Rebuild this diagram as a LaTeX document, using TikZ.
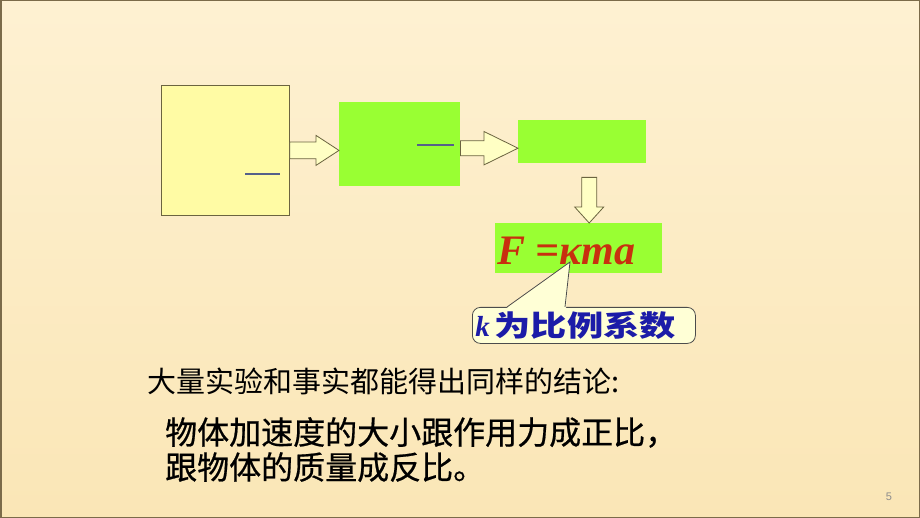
\documentclass[tikz,border=0pt]{standalone}
\usepackage{fontspec}
\setmainfont{Liberation Serif}
\newfontfamily\cjk{Noto Sans CJK SC}
\newfontfamily\cjkbody[FakeBold=0.6]{Noto Sans CJK SC}
\newfontfamily\cjkwide[FakeStretch=1.25]{Noto Sans CJK SC}
\newfontfamily\numfont{Liberation Sans}
\usetikzlibrary{calc,positioning}

\definecolor{slidebg}{HTML}{FEF1D2}
\definecolor{slidebgb}{HTML}{FAE6B6}
\definecolor{slideedge}{HTML}{7B6B4A}
\definecolor{boxyellow}{HTML}{FFFBA4}
\definecolor{boxgreen}{HTML}{99FF33}
\definecolor{arrowfill}{HTML}{FFFFC4}
\definecolor{olive}{HTML}{6B6440}
\definecolor{fracblue}{HTML}{55608A}
\definecolor{formred}{HTML}{C8300F}
\definecolor{noteblue}{HTML}{1C1CA8}
\definecolor{notefill}{HTML}{FFFFD6}

\tikzset{
  ybox/.style={draw=olive, line width=0.8pt, fill=boxyellow, inner sep=0pt, anchor=north west},
  gbox/.style={fill=boxgreen, inner sep=0pt, anchor=north west},
  fatarrow/.style={draw=olive, line width=0.8pt, fill=arrowfill, line join=miter},
  fracbar/.style={draw=fracblue, line width=1.3pt},
  notebox/.style={draw=black!70, line width=0.8pt, fill=notefill, rounded corners=8pt,
    anchor=north west, inner xsep=3pt, align=left}
}

% tail, tip, shaft half width, head half width, head length
\newcommand\fatarrow[5]{%
  \draw[fatarrow] let \p1=($(#2)!#5!(#1)$) in
    ($(#1)!#3!90:(#2)$) -- ($(\p1)!#3!-90:(#1)$) -- ($(\p1)!#4!-90:(#1)$) -- (#2)
    -- ($(\p1)!#4!90:(#1)$) -- ($(\p1)!#3!90:(#1)$) -- ($(#1)!#3!-90:(#2)$) -- cycle;}

\begin{document}
\begin{tikzpicture}[x=1pt, y=-1pt]
  \useasboundingbox (0,0) rectangle (920,518);
  %%%%% slide %%%%%
  \shade[top color=slidebg, bottom color=slidebgb] (0,0) rectangle (920,518);
  \draw[slideedge, line width=1.5pt] (0.75,0.75) rectangle (919.25,517.25);

  %%%%% boxes %%%%%
  \node[ybox, minimum width=128, minimum height=130] (y1) at (161,85) {};
  \node[gbox, minimum width=121, minimum height=84] (g2) at (339,102) {};
  \node[gbox, minimum width=128, minimum height=43] (g3) at (518,120) {};
  \node[gbox, minimum width=167, minimum height=50] (f4) at (495,223) {};

  \draw[fracbar] (245,174) -- (280,174);
  \draw[fracbar] (417,145) -- (454,145);

  %%%%% arrows %%%%%
  \coordinate (a1s) at (y1.east);
  \coordinate (a1e) at (g2.west |- a1s);
  \coordinate (a2s) at ($(g2.east)+(0,4)$);
  \coordinate (a2e) at (g3.west |- a2s);
  \coordinate (a3s) at ($(g3.south)+(7,14)$);
  \coordinate (a3e) at (a3s |- f4.north);
  \fatarrow{a1s}{a1e}{8.3pt}{15pt}{23pt}
  \fatarrow{a2s}{a2e}{7.5pt}{16.7pt}{34pt}
  \fatarrow{a3s}{a3e}{7.5pt}{14.5pt}{16pt}

  %%%%% formula %%%%%
  \node[anchor=base west, inner sep=0pt, text=formred, font=\fontsize{42}{42}\selectfont\bfseries\itshape]
    (eq) at (497,265) {F =κma};

  %%%%% note %%%%%
  \node[notebox, text width=217, minimum height=36] (note) at (472,307)
    {\fontsize{29}{30}\selectfont\color{noteblue}\textbf{\textit{k}}\,{\cjkwide\bfseries 为比例系数}};
  \coordinate (tip) at (570,262);
  \coordinate (nl) at ($(note.north west)+(35,0)$);
  \coordinate (nr) at ($(note.north west)+(93,0)$);
  \fill[notefill] ($(nl)+(-1,1.5)$) -- (tip) -- ($(nr)+(1,1.5)$) -- cycle;
  \draw[black!70, line width=0.8pt] (nl) -- (tip) -- (nr);

  %%%%% text %%%%%
  \node[anchor=west, inner sep=0pt, font=\cjk\fontsize{29}{30}\selectfont] (t1) at (147,381)
    {大量实验和事实都能得出同样的结论:};
  \node[anchor=north west, inner sep=0pt, align=left, font=\cjkbody\fontsize{32}{35}\selectfont] (t2) at (165,417)
    {物体加速度的大小跟作用力成正比，\\跟物体的质量成反比。};

  \node[text=black!45, font=\numfont\fontsize{11}{11}\selectfont] (pg) at (889,497) {5};
\end{tikzpicture}
\end{document}
